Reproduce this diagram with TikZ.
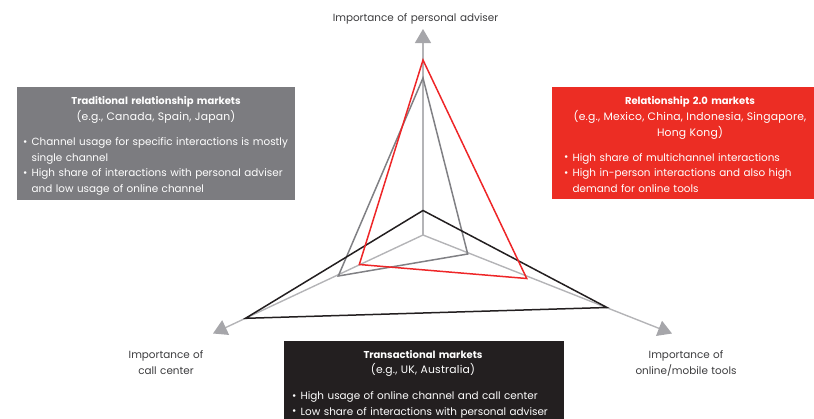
\documentclass[tikz,border=0pt]{standalone}
\usepackage{fontspec}
\setmainfont{Poppins}
\usetikzlibrary{arrows.meta}

\definecolor{axisgray}{RGB}{180,180,183}
\definecolor{tipgray}{RGB}{166,166,170}
\definecolor{tradfill}{RGB}{124,124,128}
\definecolor{tradline}{RGB}{128,128,132}
\definecolor{relfill}{RGB}{236,45,36}
\definecolor{relline}{RGB}{238,38,40}
\definecolor{transfill}{RGB}{35,31,32}
\definecolor{labeltext}{RGB}{60,60,62}

% bullet mark and continuation indent
\newcommand\bulmark{\makebox[8.5pt][l]{\raisebox{0.3pt}{\textbullet}}}
\newcommand\bulcont{\hspace*{8.5pt}}
\newcommand\subline{\fontsize{10.8}{15.7}\selectfont\addfontfeature{LetterSpace=2}}

\tikzset{
  axisline/.style={draw=axisgray, line width=1.4pt,
    -{Triangle[width=16pt,length=14pt,color=tipgray]}},
  profile/.style={line width=1.5pt, line join=miter},
  panel/.style={anchor=north west, inner sep=0pt, outer sep=0pt},
  txt/.style={font=\fontsize{10}{15.7}\selectfont, inner sep=0pt},
  headblock/.style={txt, anchor=base, text width=275pt, align=center},
  bulletblock/.style={txt, font=\fontsize{10.4}{15.7}\selectfont,
    anchor=base west, text width=275pt, align=left},
  axislabel/.style={txt, font=\fontsize{10.4}{15.7}\selectfont, text=labeltext,
    anchor=base, text width=220pt, align=center},
}

\begin{document}
\begin{tikzpicture}[x=1pt,y=-1pt]
\useasboundingbox (0,0) rectangle (814,418);

% axes
\coordinate (O) at (423,235);
\coordinate (Atip) at (423,29);
\coordinate (Btip) at (213,333.5);
\coordinate (Ctip) at (672,333.5);
\draw[axisline] (O) -- (Atip);
\draw[axisline] (O) -- (Btip);
\draw[axisline] (O) -- (Ctip);

% market profiles
\coordinate (t1) at (423,78);
\coordinate (t2) at (338.3,276);
\coordinate (t3) at (467.7,254);
\coordinate (k1) at (423,210.5);
\coordinate (k2) at (245.5,318.3);
\coordinate (k3) at (607,307.5);
\coordinate (r1) at (423,60);
\coordinate (r2) at (359.3,264.5);
\coordinate (r3) at (526.7,278.5);
\draw[profile, draw=tradline] (t1) -- (t2) -- (t3) -- cycle;
\draw[profile, draw=transfill] (k1) -- (k2) -- (k3) -- cycle;
\draw[profile, draw=relline] (r1) -- (r2) -- (r3) -- cycle;

% axis labels
\node[axislabel] (lab1) at (415.5,21) {Importance of personal adviser};
\node[axislabel] (lab2) at (166,358.7) {Importance of\\call center};
\node[axislabel] (lab3) at (686,358.7) {Importance of\\online/mobile tools};

% traditional relationship markets
\node[panel, fill=tradfill, minimum width=278pt, minimum height=113pt] (tradbox) at (17,87) {};
\node[headblock, text=white] (tradhead) at (156,104.7)
  {\bfseries Traditional relationship markets\\\mdseries\subline(e.g., Canada, Spain, Japan)};
\node[bulletblock, text=white] (tradlist) at (23,145.4)
  {\bulmark Channel usage for specific interactions is mostly\\
   \bulcont single channel\\
   \bulmark High share of interactions with personal adviser\\
   \bulcont and low usage of online channel};

% relationship 2.0 markets
\node[panel, fill=relfill, minimum width=262pt, minimum height=112pt] (relbox) at (552,86.5) {};
\node[headblock, text=white] (relhead) at (690,104.7)
  {\bfseries Relationship 2.0 markets\\\mdseries\subline(e.g., Mexico, China, Indonesia, Singapore,\\Hong Kong)};
\node[bulletblock, text=white] (rellist) at (564,161)
  {\bulmark High share of multichannel interactions\\
   \bulmark High in-person interactions and also high\\
   \bulcont demand for online tools};

% transactional markets
\node[panel, fill=transfill, minimum width=280pt, minimum height=78pt] (transbox) at (284,340.5) {};
\node[headblock, text=white] (transhead) at (423,358)
  {\bfseries Transactional markets\\\mdseries\subline(e.g., UK, Australia)};
\node[bulletblock, text=white] (translist) at (292,399.4)
  {\bulmark High usage of online channel and call center\\
   \bulmark Low share of interactions with personal adviser};
\end{tikzpicture}
\end{document}
